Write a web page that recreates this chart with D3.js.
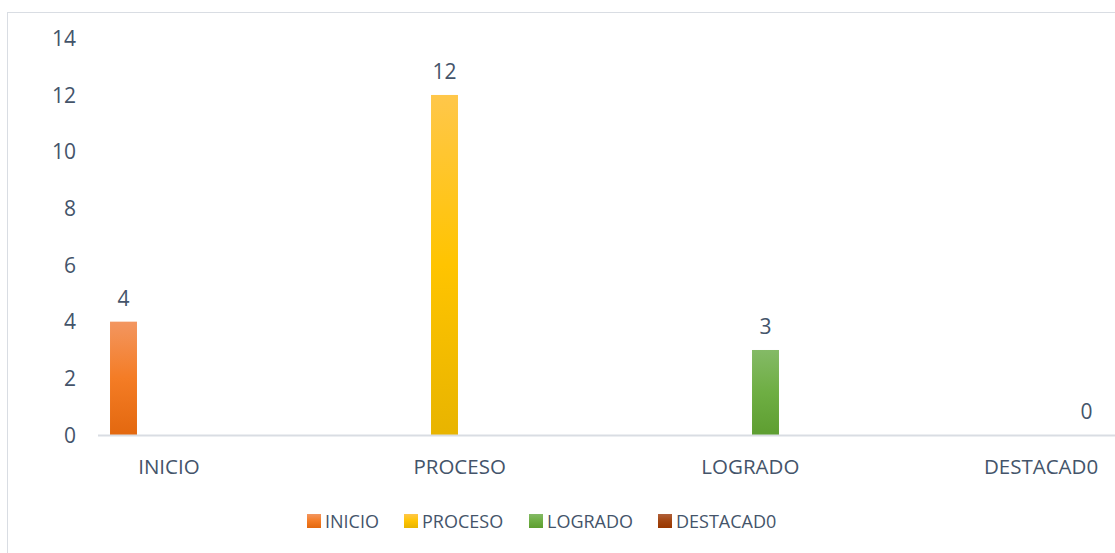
<!DOCTYPE html>
<html>
<head>
<meta charset="utf-8">
<script src="https://cdn.jsdelivr.net/npm/d3@7"></script>
<style>
  body { margin: 0; background: #fff; }
  svg text { font-family: "Open Sans", "Noto Sans", sans-serif; fill: #44546A; }
</style>
</head>
<body>
<div id="chart"></div>
<script>
const categories = ["INICIO", "PROCESO", "LOGRADO", "DESTACAD0"];
const series = ["INICIO", "PROCESO", "LOGRADO", "DESTACAD0"];
// each series only has a value in its own category
const values = [4, 12, 3, 0];
const yTicks = [0, 2, 4, 6, 8, 10, 12, 14];
const colors = [
    ["#F39660", "#F47C25", "#E3680F"],
    ["#FFC74A", "#FFC400", "#E8B400"],
    ["#84BA66", "#6EAE43", "#5E9E31"],
    ["#B0603A", "#A34510", "#983700"]
];

const width = 1115;
const height = 553;

const svg = d3.select('#chart')
    .append('svg')
    .attr('width', width)
    .attr('height', height);

// gradients
const defs = svg.append('defs');
colors.forEach((c, i) => {
    const g = defs.append('linearGradient')
        .attr('id', 'grad' + i)
        .attr('x1', 0).attr('y1', 0).attr('x2', 0).attr('y2', 1);
    g.append('stop').attr('offset', '0%').attr('stop-color', c[0]);
    g.append('stop').attr('offset', '50%').attr('stop-color', c[1]);
    g.append('stop').attr('offset', '100%').attr('stop-color', c[2]);
});

// outer frame
svg.append('rect')
    .attr('x', 7.5).attr('y', 12.5)
    .attr('width', 1130).attr('height', 580)
    .attr('fill', 'none')
    .attr('stroke', '#D9DDE3');

// scales
const xScale = d3.scaleBand()
    .domain(categories)
    .range([23.6, 1186.4]);

const xInner = d3.scaleBand()
    .domain(series)
    .range([-60.6, 60.6])
    .paddingInner(0.11)
    .paddingOuter(0.055);

const yScale = d3.scaleLinear()
    .domain([0, 14])
    .range([435, 38.3]);

// y tick labels
svg.append('g')
    .selectAll('text')
    .data(yTicks)
    .enter()
    .append('text')
    .attr('x', 76)
    .attr('y', d => yScale(d))
    .attr('dy', '0.36em')
    .attr('text-anchor', 'end')
    .attr('font-size', 21)
    .text(d => d);

// bars
const bars = categories.map((c, i) => ({cat: c, ser: series[i], value: values[i], idx: i}));

svg.selectAll('rect.bar')
    .data(bars)
    .enter()
    .append('rect')
    .attr('class', 'bar')
    .attr('x', d => xScale(d.cat) + xScale.bandwidth() / 2 + xInner(d.ser))
    .attr('y', d => yScale(d.value))
    .attr('width', xInner.bandwidth())
    .attr('height', d => yScale(0) - yScale(d.value))
    .attr('fill', d => `url(#grad${d.idx})`);

// data labels
svg.selectAll('text.label')
    .data(bars)
    .enter()
    .append('text')
    .attr('class', 'label')
    .attr('x', d => xScale(d.cat) + xScale.bandwidth() / 2 + xInner(d.ser) + xInner.bandwidth() / 2)
    .attr('y', d => yScale(d.value) - 16)
    .attr('text-anchor', 'middle')
    .attr('font-size', 21)
    .text(d => d.value);

// x axis line
svg.append('line')
    .attr('x1', 98).attr('x2', 1115)
    .attr('y1', 435.5).attr('y2', 435.5)
    .attr('stroke', '#D9DDE3')
    .attr('stroke-width', 2);

// category labels
svg.append('g')
    .selectAll('text')
    .data(categories)
    .enter()
    .append('text')
    .attr('x', d => xScale(d) + xScale.bandwidth() / 2)
    .attr('y', 474)
    .attr('text-anchor', 'middle')
    .attr('font-size', 20.5)
    .text(d => d);

// legend
const legendX = [307, 404, 529, 658];
const legend = svg.append('g');
series.forEach((s, i) => {
    legend.append('rect')
        .attr('x', legendX[i]).attr('y', 514)
        .attr('width', 14).attr('height', 14)
        .attr('fill', `url(#grad${i})`);
    legend.append('text')
        .attr('x', legendX[i] + 18)
        .attr('y', 528)
        .attr('font-size', 18)
        .text(s);
});
</script>
</body>
</html>
